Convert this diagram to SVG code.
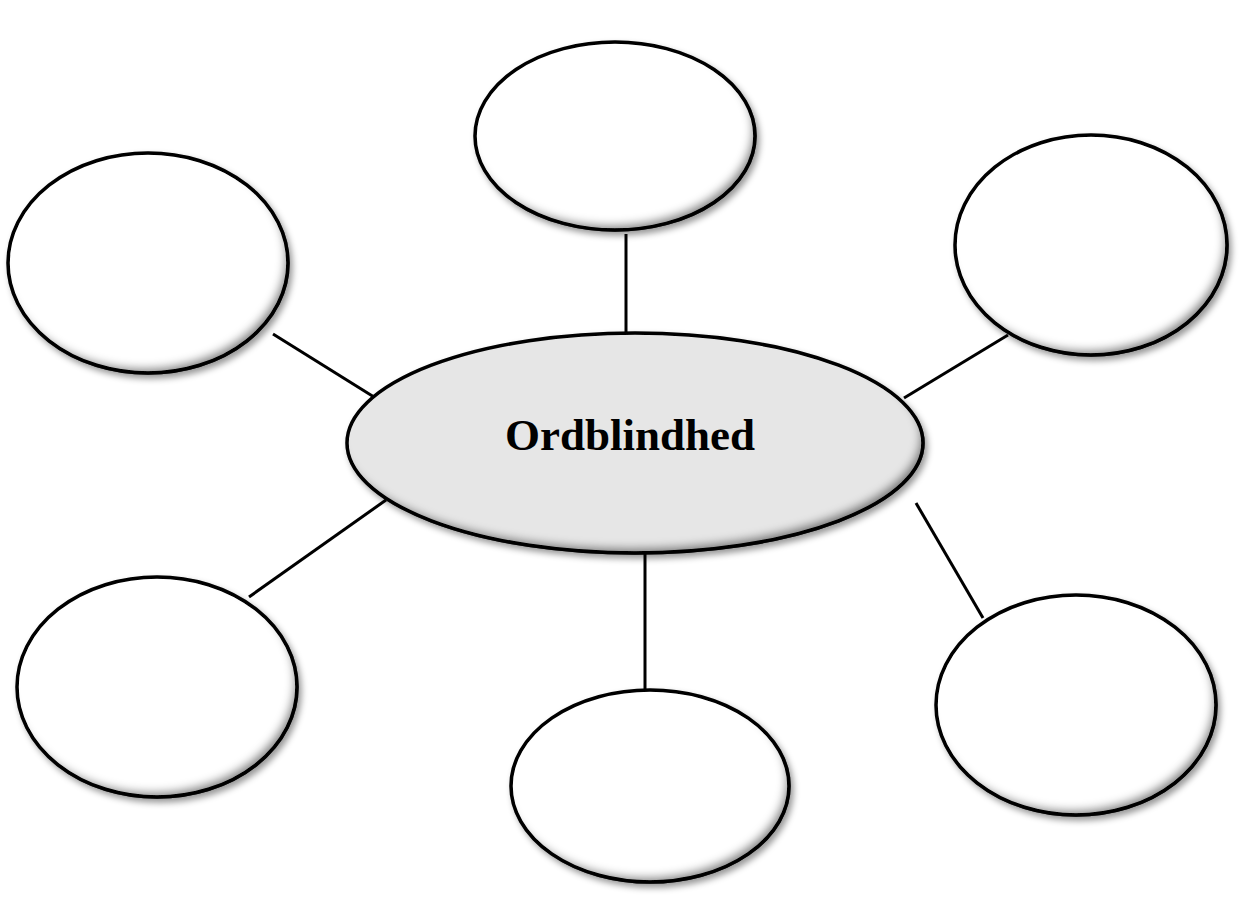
<svg xmlns="http://www.w3.org/2000/svg" width="1239" height="911" viewBox="0 0 1239 911">
<style>
.node{stroke:#000;stroke-width:3.5}
.outer{fill:#fff}
.center{fill:#e6e6e6}
.conn line{stroke:#000;stroke-width:3}
.label{font-family:"Liberation Serif","Times New Roman",serif;font-weight:bold;font-size:44px;fill:#000}
</style>
<defs>
<filter id="bevel" x="-15%" y="-15%" width="135%" height="140%">
<feGaussianBlur in="SourceAlpha" stdDeviation="3" result="db"/>
<feOffset in="db" dx="3" dy="4" result="dso"/>
<feFlood flood-color="#000" flood-opacity="0.4"/>
<feComposite in2="dso" operator="in" result="ds"/>
<feComponentTransfer in="SourceAlpha" result="inv"><feFuncA type="table" tableValues="1 0"/></feComponentTransfer>
<feOffset in="inv" dx="-5" dy="-7" result="invo"/>
<feGaussianBlur in="invo" stdDeviation="4" result="invb"/>
<feFlood flood-color="#000" flood-opacity="0.75"/>
<feComposite in2="invb" operator="in" result="isc"/>
<feComposite in="isc" in2="SourceAlpha" operator="in" result="is"/>
<feMerge><feMergeNode in="ds"/><feMergeNode in="SourceGraphic"/><feMergeNode in="is"/></feMerge>
</filter>
</defs>
<rect width="1239" height="911" fill="#fff"/>
<g class="conn" id="connectors">
<line x1="626" y1="234" x2="626" y2="332"/>
<line x1="273" y1="334" x2="374" y2="397"/>
<line x1="1008" y1="335" x2="904" y2="398"/>
<line x1="386" y1="500" x2="249" y2="597"/>
<line x1="645" y1="553" x2="645" y2="691"/>
<line x1="916" y1="503" x2="983" y2="618"/>
</g>
<g id="node-top"><ellipse class="node outer" filter="url(#bevel)" cx="615" cy="136" rx="140" ry="94"/></g>
<g id="node-topleft"><ellipse class="node outer" filter="url(#bevel)" cx="148" cy="263" rx="140" ry="110"/></g>
<g id="node-topright"><ellipse class="node outer" filter="url(#bevel)" cx="1091" cy="245" rx="136" ry="110"/></g>
<g id="node-bottomleft"><ellipse class="node outer" filter="url(#bevel)" cx="157" cy="687" rx="140" ry="110"/></g>
<g id="node-bottom"><ellipse class="node outer" filter="url(#bevel)" cx="650" cy="786" rx="139" ry="96"/></g>
<g id="node-bottomright"><ellipse class="node outer" filter="url(#bevel)" cx="1076" cy="705" rx="140" ry="110"/></g>
<g id="node-center">
<ellipse class="node center" filter="url(#bevel)" cx="635" cy="443" rx="288" ry="110"/>
<text class="label" x="630" y="450" text-anchor="middle" textLength="250" lengthAdjust="spacingAndGlyphs">Ordblindhed</text>
</g>
</svg>
